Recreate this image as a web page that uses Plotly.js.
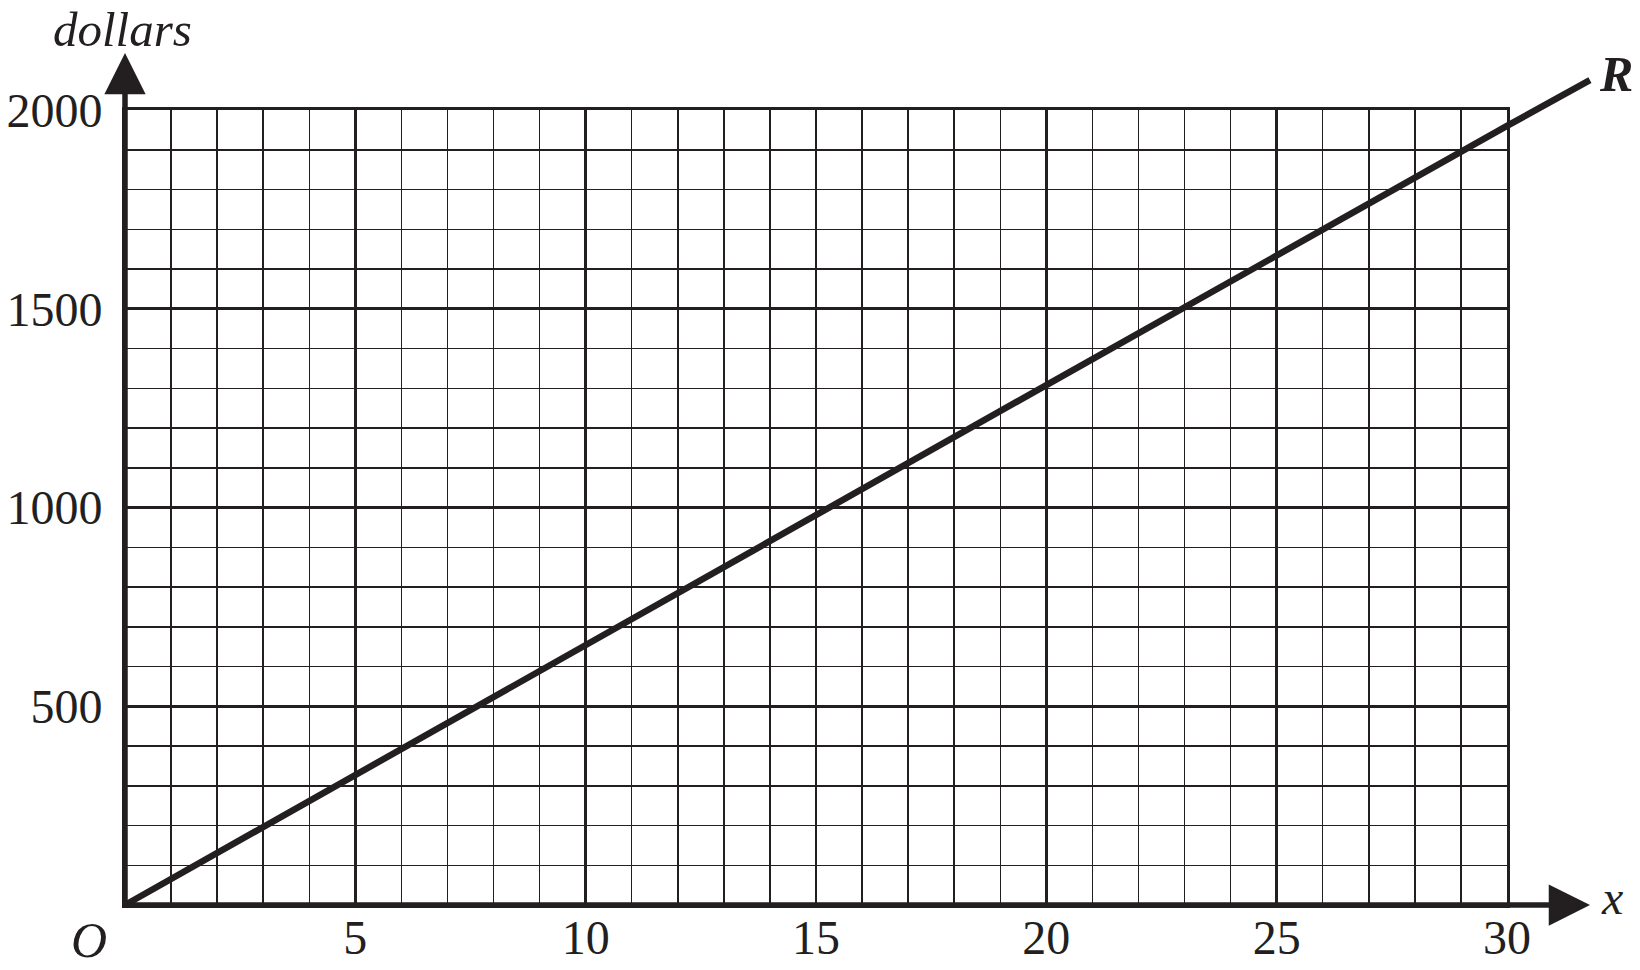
<!DOCTYPE html>
<html>
<head>
<meta charset="utf-8">
<script src="https://cdn.plot.ly/plotly-3.0.1.min.js"></script>
<style>
  html, body { margin: 0; padding: 0; background: #fff; }
  #graph { width: 1640px; height: 970px; }
</style>
</head>
<body>
<div id="graph"></div>
<script>
// values
var xTicks = [5, 10, 15, 20, 25, 30];
var yTicks = [500, 1000, 1500, 2000];
var rX = [0, 10, 20, 30, 31.8];
var rY = [0, 655, 1308, 1960, 2075];

var ink = '#231f20';
var serif = 'Liberation Serif';

// where the grid box sits on the page (pixels)
var W = 1640, H = 970;
var boxL = 125, boxR = 1507, boxT = 110, boxB = 905;
var xMax = 30, yMax = 2000;

var pxX = (boxR - boxL) / xMax;
var pxY = (boxB - boxT) / yMax;

// the overlay axes cover the whole page with the same scale, so R can run past the box
var x2Range = [-boxL / pxX, (W - boxL) / pxX];
var y2Range = [-(H - boxB) / pxY, boxB / pxY];

// arrow tips of the two axes
var xTip = (1590 - boxL) / pxX;
var yTip = (boxB - 53) / pxY;

var data = [
  // empty trace so the grid subplot gets drawn
  {type: 'scatter', mode: 'lines', x: [], y: [], xaxis: 'x', yaxis: 'y', hoverinfo: 'skip'},
  {
    type: 'scatter',
    mode: 'lines',
    x: rX,
    y: rY,
    xaxis: 'x2',
    yaxis: 'y2',
    line: {color: ink, width: 6.5},
    hoverinfo: 'skip'
  }
];

var layout = {
  width: W,
  height: H,
  margin: {l: 0, r: 0, t: 0, b: 0},
  paper_bgcolor: '#ffffff',
  plot_bgcolor: 'rgba(0,0,0,0)',
  showlegend: false,
  font: {family: serif, color: ink, size: 48},
  xaxis: {
    domain: [boxL / W, boxR / W],
    range: [0, xMax],
    anchor: 'y',
    tickvals: xTicks,
    ticks: '',
    ticklabelstandoff: -12,
    tickfont: {family: serif, size: 48, color: ink},
    showgrid: true,
    gridcolor: ink,
    gridwidth: 2.8,
    minor: {tickmode: 'linear', tick0: 0, dtick: 1, showgrid: true, gridcolor: ink, gridwidth: 1.5, ticks: ''},
    zeroline: false,
    showline: true,
    mirror: true,
    linecolor: ink,
    linewidth: 3,
    fixedrange: true
  },
  yaxis: {
    domain: [(H - boxB) / H, (H - boxT) / H],
    range: [0, yMax],
    anchor: 'x',
    tickvals: yTicks,
    ticks: '',
    ticklabelstandoff: 10,
    tickfont: {family: serif, size: 48, color: ink},
    showgrid: true,
    gridcolor: ink,
    gridwidth: 2.8,
    minor: {tickmode: 'linear', tick0: 0, dtick: 100, showgrid: true, gridcolor: ink, gridwidth: 1.5, ticks: ''},
    zeroline: false,
    showline: true,
    mirror: true,
    linecolor: ink,
    linewidth: 3,
    fixedrange: true
  },
  xaxis2: {domain: [0, 1], range: x2Range, anchor: 'y2', visible: false, fixedrange: true},
  yaxis2: {domain: [0, 1], range: y2Range, anchor: 'x2', visible: false, fixedrange: true},
  annotations: [
    // x axis with arrow
    {xref: 'x2', yref: 'y2', axref: 'x2', ayref: 'y2', x: xTip, y: 0, ax: -0.06, ay: 0,
     text: '', showarrow: true, arrowhead: 2, arrowsize: 1.5, arrowwidth: 5.5, arrowcolor: ink},
    // y axis with arrow
    {xref: 'x2', yref: 'y2', axref: 'x2', ayref: 'y2', x: 0, y: yTip, ax: 0, ay: -6,
     text: '', showarrow: true, arrowhead: 2, arrowsize: 1.5, arrowwidth: 5.5, arrowcolor: ink},
    {xref: 'paper', yref: 'paper', x: 122 / W, y: 1 - 29 / H, xanchor: 'center', yanchor: 'middle',
     text: '<i>dollars</i>', showarrow: false, font: {family: serif, size: 49, color: ink}},
    {xref: 'paper', yref: 'paper', x: 89 / W, y: 1 - 940 / H, xanchor: 'center', yanchor: 'middle',
     text: '<i>O</i>', showarrow: false, font: {family: serif, size: 50, color: ink}},
    {xref: 'paper', yref: 'paper', x: 1612 / W, y: 1 - 897 / H, xanchor: 'center', yanchor: 'middle',
     text: '<i>x</i>', showarrow: false, font: {family: serif, size: 48, color: ink}},
    {xref: 'paper', yref: 'paper', x: 1616 / W, y: 1 - 74 / H, xanchor: 'center', yanchor: 'middle',
     text: '<b><i>R</i></b>', showarrow: false, font: {family: serif, size: 50, color: ink}}
  ]
};

Plotly.newPlot('graph', data, layout, {displayModeBar: false, staticPlot: true});
</script>
</body>
</html>
